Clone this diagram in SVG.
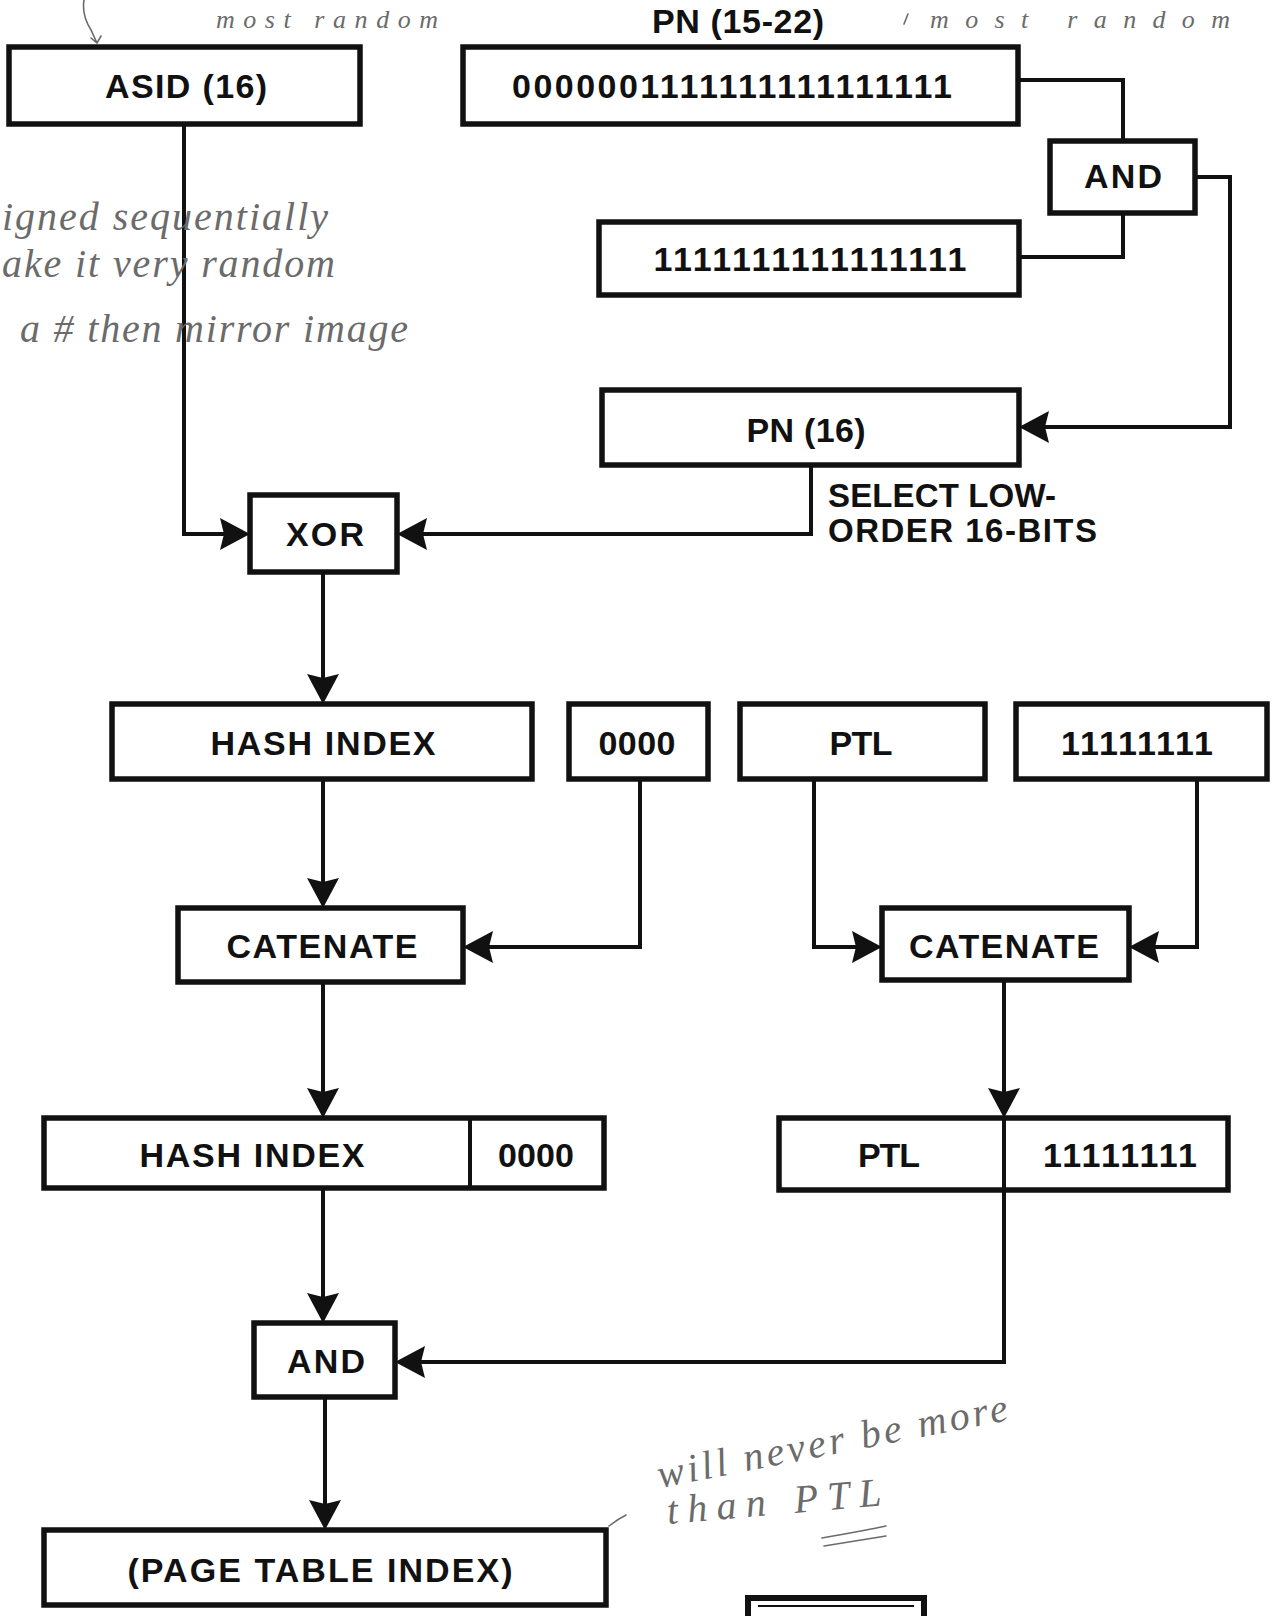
<svg xmlns="http://www.w3.org/2000/svg" width="1275" height="1616" viewBox="0 0 1275 1616">
  <style>
    .box { fill: #ffffff; stroke: #111111; stroke-width: 5.5; }
    .div { stroke: #111111; stroke-width: 4; fill: none; }
    .con { fill: none; stroke: #111111; stroke-width: 4; }
    .lbl { font-family: "Liberation Sans", Arial, Helvetica, sans-serif; font-weight: bold; font-size: 34px; fill: #111111; text-anchor: middle; }
    .side { font-family: "Liberation Sans", Arial, Helvetica, sans-serif; font-weight: bold; font-size: 33px; fill: #111111; text-anchor: start; }
    .note { font-family: "Liberation Serif", "DejaVu Serif", serif; font-style: italic; font-size: 40px; fill: #6b6b6b; }
    .note-s { font-family: "Liberation Serif", "DejaVu Serif", serif; font-style: italic; font-size: 26px; fill: #6b6b6b; }
    .ink { fill: none; stroke: #6b6b6b; stroke-width: 1.6; stroke-linecap: round; }
  </style>
  <defs>
    <marker id="ah" viewBox="0 0 30 32" refX="20" refY="16" markerWidth="30" markerHeight="32" markerUnits="userSpaceOnUse" orient="auto">
      <path d="M0,0 L30,16 L0,32 L4,16 z" fill="#111111"/>
    </marker>
  </defs>
  <rect x="0" y="0" width="1275" height="1616" fill="#ffffff"/>

  <!-- connectors -->
  <g id="connectors">
    <path class="con" d="M1018,80 H1123 V141"/>
    <path class="con" d="M1019,257 H1123 V213"/>
    <path class="con" d="M1195,177 H1230 V427 H1029" marker-end="url(#ah)"/>
    <path class="con" d="M811,465 V534 H407" marker-end="url(#ah)"/>
    <path class="con" d="M184,124 V534 H240" marker-end="url(#ah)"/>
    <path class="con" d="M323,572 V694" marker-end="url(#ah)"/>
    <path class="con" d="M323,779 V898" marker-end="url(#ah)"/>
    <path class="con" d="M640,779 V947 H473" marker-end="url(#ah)"/>
    <path class="con" d="M814,779 V947 H872" marker-end="url(#ah)"/>
    <path class="con" d="M1197,779 V947 H1139" marker-end="url(#ah)"/>
    <path class="con" d="M323,982 V1108" marker-end="url(#ah)"/>
    <path class="con" d="M1004,980 V1108" marker-end="url(#ah)"/>
    <path class="con" d="M323,1188 V1313" marker-end="url(#ah)"/>
    <path class="con" d="M1004,1190 V1362 H405" marker-end="url(#ah)"/>
    <path class="con" d="M325,1397 V1520" marker-end="url(#ah)"/>
  </g>

  <text class="lbl" x="738" y="33" textLength="172" lengthAdjust="spacing">PN (15-22)</text>

  <g id="asid">
    <rect class="box" x="9" y="47" width="351" height="77"/>
    <text class="lbl" x="186" y="98" textLength="162" lengthAdjust="spacing">ASID (16)</text>
  </g>
  <g id="pn-mask-value">
    <rect class="box" x="463" y="47" width="555" height="77"/>
    <text class="lbl" x="732" y="98" textLength="440" lengthAdjust="spacing">0000001111111111111111</text>
  </g>
  <g id="and-top">
    <rect class="box" x="1050" y="141" width="145" height="72"/>
    <text class="lbl" x="1123" y="188" textLength="78" lengthAdjust="spacing">AND</text>
  </g>
  <g id="mask16">
    <rect class="box" x="599" y="222" width="420" height="73"/>
    <text class="lbl" x="810" y="271" textLength="313" lengthAdjust="spacing">1111111111111111</text>
  </g>
  <g id="pn16">
    <rect class="box" x="602" y="390" width="417" height="75"/>
    <text class="lbl" x="806" y="442" textLength="119" lengthAdjust="spacing">PN (16)</text>
  </g>
  <g id="select-label">
    <text class="side" x="828" y="507" textLength="228" lengthAdjust="spacing">SELECT LOW-</text>
    <text class="side" x="828" y="542" textLength="269" lengthAdjust="spacing">ORDER 16-BITS</text>
  </g>
  <g id="xor">
    <rect class="box" x="250" y="495" width="147" height="77"/>
    <text class="lbl" x="325" y="546" textLength="78" lengthAdjust="spacing">XOR</text>
  </g>
  <g id="hash-index">
    <rect class="box" x="112" y="704" width="420" height="75"/>
    <text class="lbl" x="323" y="755" textLength="225" lengthAdjust="spacing">HASH INDEX</text>
  </g>
  <g id="zeros">
    <rect class="box" x="569" y="704" width="139" height="75"/>
    <text class="lbl" x="637" y="755" textLength="77" lengthAdjust="spacing">0000</text>
  </g>
  <g id="ptl">
    <rect class="box" x="740" y="704" width="245" height="75"/>
    <text class="lbl" x="861" y="755" textLength="63" lengthAdjust="spacing">PTL</text>
  </g>
  <g id="ones8">
    <rect class="box" x="1016" y="704" width="251" height="75"/>
    <text class="lbl" x="1137" y="755" textLength="152" lengthAdjust="spacing">11111111</text>
  </g>
  <g id="catenate-left">
    <rect class="box" x="178" y="908" width="285" height="74"/>
    <text class="lbl" x="322" y="958" textLength="191" lengthAdjust="spacing">CATENATE</text>
  </g>
  <g id="catenate-right">
    <rect class="box" x="882" y="908" width="247" height="72"/>
    <text class="lbl" x="1004" y="958" textLength="190" lengthAdjust="spacing">CATENATE</text>
  </g>
  <g id="hash-zeros">
    <rect class="box" x="44" y="1118" width="560" height="70"/>
    <path class="div" d="M470,1118 V1188"/>
    <text class="lbl" x="252" y="1167" textLength="225" lengthAdjust="spacing">HASH INDEX</text>
    <text class="lbl" x="536" y="1167" textLength="76" lengthAdjust="spacing">0000</text>
  </g>
  <g id="ptl-ones">
    <rect class="box" x="779" y="1118" width="449" height="72"/>
    <path class="div" d="M1004,1118 V1190"/>
    <text class="lbl" x="889" y="1167" textLength="62" lengthAdjust="spacing">PTL</text>
    <text class="lbl" x="1120" y="1167" textLength="154" lengthAdjust="spacing">11111111</text>
  </g>
  <g id="and-bottom">
    <rect class="box" x="254" y="1323" width="141" height="74"/>
    <text class="lbl" x="326" y="1373" textLength="78" lengthAdjust="spacing">AND</text>
  </g>
  <g id="page-table-index">
    <rect class="box" x="44" y="1530" width="562" height="75"/>
    <text class="lbl" x="320" y="1582" textLength="385" lengthAdjust="spacing">(PAGE TABLE INDEX)</text>
  </g>
  <g id="partial-box">
    <rect x="748" y="1598" width="176" height="40" fill="#ffffff" stroke="#111111" stroke-width="6"/>
    <path d="M758,1606 H914" stroke="#111111" stroke-width="2" fill="none"/>
  </g>

  <!-- handwritten annotations -->
  <g id="annotations">
    <text class="note-s" x="216" y="28" textLength="222" lengthAdjust="spacing">most random</text>
    <text class="note-s" x="930" y="28" textLength="300" lengthAdjust="spacing">most random</text>
    <path class="ink" d="M908,14 L904,24"/>
    <path class="ink" d="M84,0 C82,12 86,22 91,30 L97,43 M91,38 L97,43 L101,36"/>
    <text class="note" x="2" y="230" textLength="326" lengthAdjust="spacing">igned sequentially</text>
    <text class="note" x="2" y="277" textLength="333" lengthAdjust="spacing">ake it very random</text>
    <text class="note" x="20" y="342" textLength="388" lengthAdjust="spacing">a # then mirror image</text>
    <text class="note" x="660" y="1488" textLength="356" lengthAdjust="spacing" transform="rotate(-11 660 1488)">will never be more</text>
    <text class="note" x="668" y="1524" font-size="36" textLength="215" lengthAdjust="spacing" transform="rotate(-5 668 1524)">than PTL</text>
    <path class="ink" d="M822,1538 C845,1534 868,1530 886,1526 M824,1546 C848,1542 868,1539 886,1536"/>
    <path class="ink" d="M609,1526 C614,1522 620,1518 626,1515"/>
  </g>
</svg>
